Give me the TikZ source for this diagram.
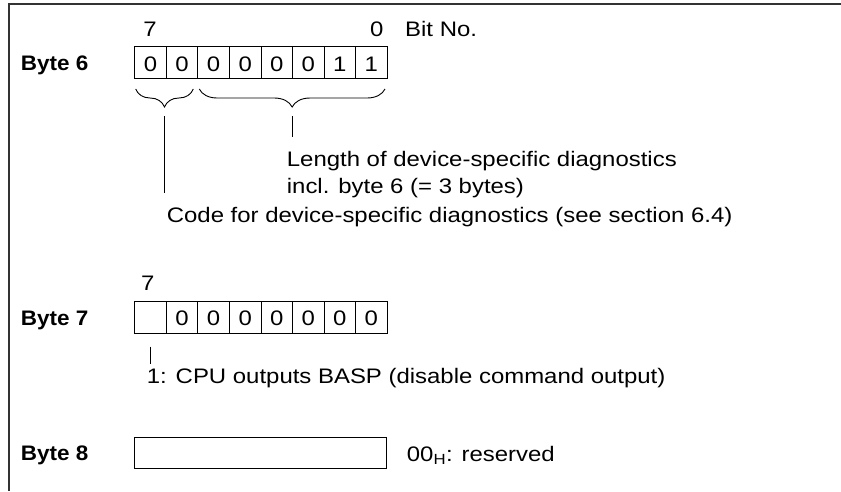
\documentclass[tikz,border=0pt]{standalone}
\usepackage{fontspec}
\setmainfont{Liberation Sans}[FakeStretch=1.14]
\newfontfamily\lblfont{Liberation Sans}[FakeStretch=1.07]
\usetikzlibrary{decorations.pathreplacing}
\begin{document}
\begin{tikzpicture}[x=1pt,y=-1pt,
  txt/.style={inner sep=0pt, anchor=base west, font=\fontsize{21}{25}\selectfont},
  lbl/.style={inner sep=0pt, anchor=base west, font=\lblfont\fontsize{21}{25}\selectfont\bfseries},
  num/.style={inner sep=0pt, anchor=base, font=\fontsize{21}{25}\selectfont},
  cellA/.style={draw, line width=0.9pt, inner sep=0pt, minimum width=31.55pt, minimum height=31.8pt,
     anchor=north west, text height=25.6pt, text depth=6.2pt, font=\fontsize{21}{25}\selectfont},
  cellB/.style={draw, line width=0.9pt, inner sep=0pt, minimum width=31.55pt, minimum height=32.3pt,
     anchor=north west, text height=24.2pt, text depth=8.1pt, font=\fontsize{21}{25}\selectfont},
  frame/.style={line width=1.2pt, draw=black!80},
  thin/.style={line width=0.9pt},
  brc/.style={thin, decorate, decoration={brace, mirror, amplitude=18pt}}
]
\useasboundingbox (0,0) rectangle (841,491);

% frame
\coordinate (fc) at (9,4);
\coordinate (fr) at (841,4);
\coordinate (fb) at (9,491);
\draw[frame] (fr) -- (fc) -- (fb);

% ---------- Byte 6 ----------
\node[lbl] (l6) at (20.7,70) {Byte 6};
\node[num] (b6h7) at (150,36) {7};
\node[num] (b6h0) at (376.7,36) {0};
\node[txt] (bitno) at (405,36.7) {Bit No.};
\foreach \v [count=\i] in {0,0,0,0,0,0,1,1}{
  \node[cellA] (b6-\i) at ({134.3+(\i-1)*31.55},45.7) {\v};
}
\coordinate (br1a) at (135.7,89);
\coordinate (br1b) at (193.3,89);
\coordinate (br2a) at (199.3,89);
\coordinate (br2b) at (385,89);
\draw[brc] (br1a) -- (br1b);
\draw[brc] (br2a) -- (br2b);

\coordinate (v1s) at (164.3,116);
\coordinate (v1e) at (164.3,192.7);
\coordinate (v2s) at (292,116);
\coordinate (v2e) at (292,137.3);
\draw[thin] (v1s) -- (v1e);
\draw[thin] (v2s) -- (v2e);

\node[txt] (len1) at (286.7,166) {Length of device-specific diagnostics};
\node[txt] (len2) at (286.7,193) {incl. byte 6 (= 3 bytes)};
\node[txt] (code) at (166.7,222.5) {Code for device-specific diagnostics (see section 6.4)};

% ---------- Byte 7 ----------
\node[lbl] (l7) at (20.7,325) {Byte 7};
\node[num] (b7h7) at (147.7,290.7) {7};
\foreach \v [count=\i] in {{},0,0,0,0,0,0,0}{
  \node[cellB] (b7-\i) at ({134.3+(\i-1)*31.55},301) {\v};
}
\coordinate (v3s) at (150.7,346.7);
\coordinate (v3e) at (150.7,364);
\draw[thin] (v3s) -- (v3e);
\node[txt] (basp) at (146.7,383.3) {1: CPU outputs BASP (disable command output)};

% ---------- Byte 8 ----------
\node[lbl] (l8) at (20.7,460) {Byte 8};
\node[draw, line width=0.9pt, inner sep=0pt, minimum width=251.7pt, minimum height=31pt, anchor=north west] (b8) at (134.3,437.3) {};
\node[txt] (res) at (406.7,461.7) {00\textsubscript{H}: reserved};
\end{tikzpicture}
\end{document}
